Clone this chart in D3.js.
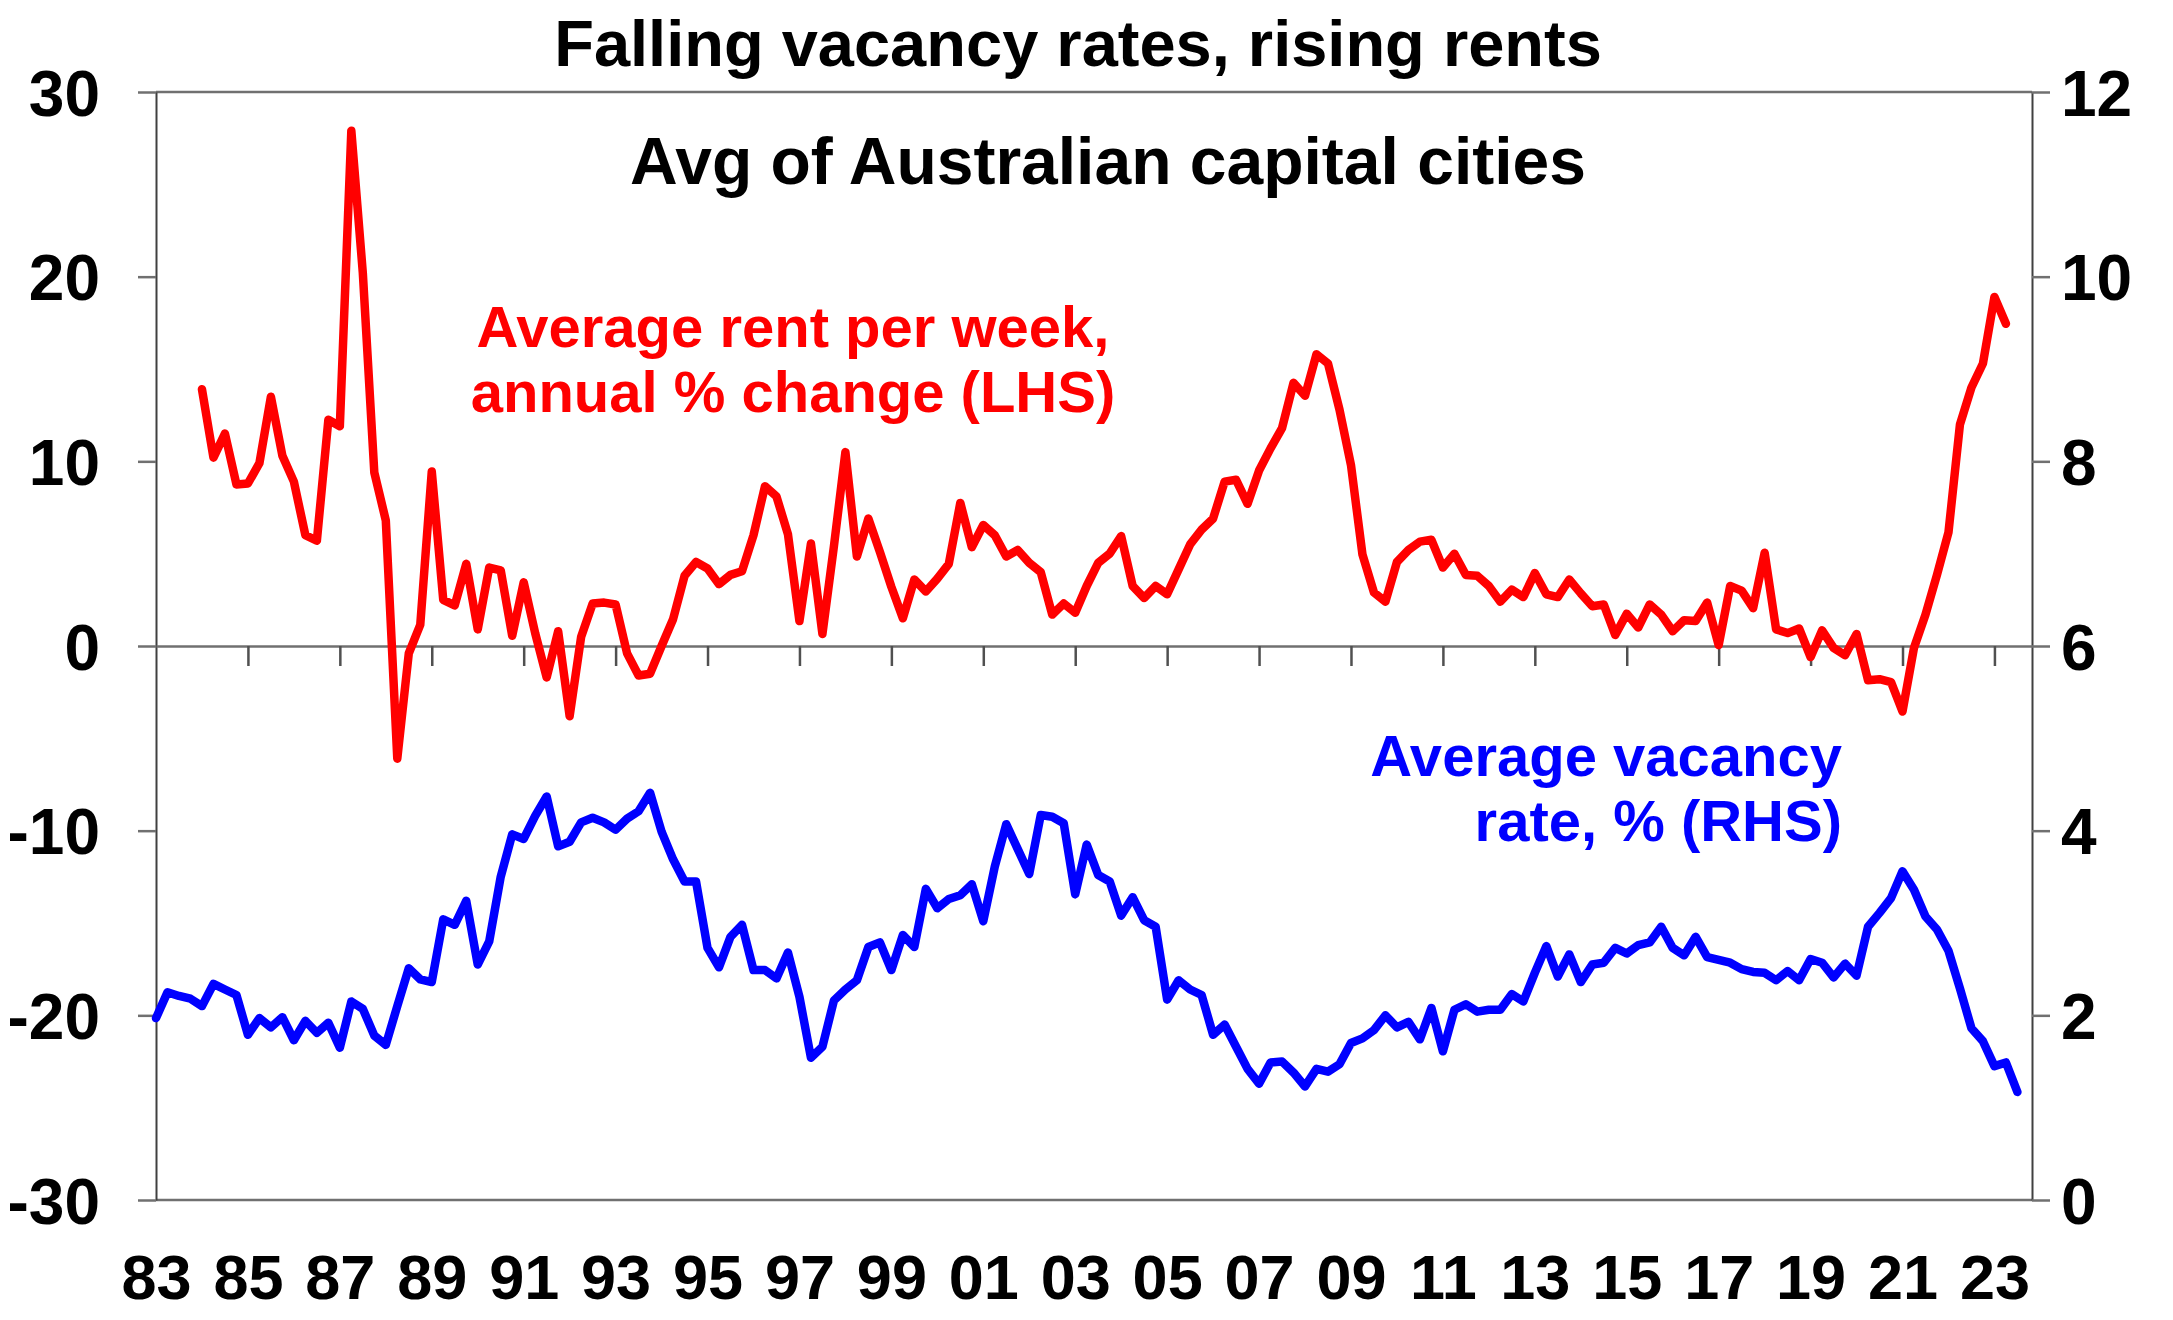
<!DOCTYPE html>
<html>
<head>
<meta charset="utf-8">
<script src="https://cdn.jsdelivr.net/npm/d3@7"></script>
<style>
  html, body { margin: 0; padding: 0; background: #ffffff; }
  svg { display: block; }
  text { font-family: "Liberation Sans", Arial, sans-serif; font-weight: bold; }
</style>
</head>
<body>
<svg id="chart" width="2173" height="1320"></svg>
<script>
// ---- Data (quarterly, starting 1983 Q1) ----
const startYear = 1983;
const periodsPerYear = 4;

// Average rent per week, annual % change (LHS) — starts 1984 Q1
const rentGrowth = [
  null, null, null, null,
  13.9, 10.2, 11.5, 8.75, 8.8, 9.9,
  13.5, 10.3, 8.9, 6.0, 5.7, 12.25, 11.9, 27.9, 20.2, 9.4,
  6.8, -6.1, -0.4, 1.15, 9.45, 2.5, 2.2, 4.45, 0.9, 4.25,
  4.1, 0.55, 3.45, 0.7, -1.7, 0.8, -3.8, 0.5, 2.3, 2.35,
  2.25, -0.4, -1.6, -1.5, 0.0, 1.45, 3.8, 4.55, 4.2, 3.35,
  3.85, 4.05, 6.0, 8.65, 8.1, 6.05, 1.35, 5.55, 0.65, 5.4,
  10.5, 4.85, 6.9, 5.1, 3.2, 1.5, 3.6, 2.95, 3.65, 4.45,
  7.75, 5.35, 6.55, 6.0, 4.85, 5.2, 4.5, 4.0, 1.7, 2.3,
  1.8, 3.25, 4.5, 5.0, 5.95, 3.25, 2.6, 3.25, 2.8, 4.15,
  5.5, 6.3, 6.9, 8.9, 9.0, 7.7, 9.5, 10.7, 11.8, 14.25,
  13.55, 15.8, 15.3, 12.8, 9.8, 4.95, 2.9, 2.4, 4.55, 5.2,
  5.65, 5.75, 4.25, 5.0, 3.85, 3.8, 3.25, 2.4, 3.05, 2.65,
  3.95, 2.8, 2.65, 3.6, 2.85, 2.15, 2.25, 0.6, 1.75, 1.0,
  2.25, 1.7, 0.8, 1.4, 1.35, 2.35, 0.05, 3.25, 3.0, 2.05,
  5.05, 0.9, 0.7, 0.95, -0.6, 0.85, -0.1, -0.5, 0.65, -1.85,
  -1.8, -1.95, -3.55, -0.1, 1.7, 3.85, 6.15, 12.0, 14.0, 15.3,
  18.9, 17.45
];

// Average vacancy rate, % (RHS) — starts 1983 Q1
const vacancyRate = [
  1.97, 2.25, 2.21, 2.18, 2.10, 2.34, 2.28, 2.22, 1.79, 1.97,
  1.87, 1.98, 1.73, 1.94, 1.81, 1.92, 1.65, 2.15, 2.07, 1.78,
  1.68, 2.10, 2.51, 2.39, 2.36, 3.04, 2.98, 3.24, 2.55, 2.80,
  3.50, 3.96, 3.91, 4.16, 4.37, 3.83, 3.88, 4.09, 4.14, 4.09,
  4.01, 4.13, 4.21, 4.41, 3.99, 3.69, 3.45, 3.45, 2.73, 2.52,
  2.85, 2.98, 2.49, 2.49, 2.40, 2.68, 2.20, 1.54, 1.66, 2.16,
  2.28, 2.38, 2.74, 2.79, 2.49, 2.87, 2.74, 3.37, 3.16, 3.26,
  3.30, 3.42, 3.02, 3.61, 4.07, 3.80, 3.53, 4.17, 4.15, 4.08,
  3.31, 3.85, 3.52, 3.45, 3.08, 3.28, 3.03, 2.96, 2.17, 2.38,
  2.28, 2.22, 1.79, 1.90, 1.66, 1.42, 1.26, 1.49, 1.50, 1.38,
  1.23, 1.42, 1.39, 1.47, 1.70, 1.75, 1.84, 2.00, 1.87, 1.93,
  1.74, 2.08, 1.61, 2.06, 2.12, 2.04, 2.06, 2.06, 2.23, 2.15,
  2.46, 2.75, 2.42, 2.66, 2.36, 2.55, 2.57, 2.73, 2.67, 2.76,
  2.79, 2.96, 2.73, 2.65, 2.85, 2.63, 2.60, 2.57, 2.50, 2.47,
  2.46, 2.38, 2.48, 2.38, 2.61, 2.57, 2.41, 2.56, 2.43, 2.96,
  3.11, 3.27, 3.56, 3.36, 3.07, 2.93, 2.70, 2.29, 1.86, 1.72,
  1.45, 1.49, 1.17
];

const xTickYears = [1983, 1985, 1987, 1989, 1991, 1993, 1995, 1997, 1999, 2001, 2003,
                    2005, 2007, 2009, 2011, 2013, 2015, 2017, 2019, 2021, 2023];
const xTickLabels = ["83", "85", "87", "89", "91", "93", "95", "97", "99", "01", "03",
                     "05", "07", "09", "11", "13", "15", "17", "19", "21", "23"];
const leftTicks = [30, 20, 10, 0, -10, -20, -30];
const rightTicks = [12, 10, 8, 6, 4, 2, 0];

const title = "Falling vacancy rates, rising rents";
const subtitle = "Avg of Australian capital cities";
const rentLabel = ["Average rent per week,", "annual % change (LHS)"];
const vacancyLabel = ["Average vacancy", "rate, % (RHS)"];

// ---- Layout ----
const plot = { left: 156, right: 2032, top: 92, bottom: 1200 };
const svg = d3.select("#chart");
const FONT = "'Liberation Sans', Arial, sans-serif";

const x = d3.scaleLinear()
  .domain([startYear, startYear + 163.27 / periodsPerYear])
  .range([plot.left, plot.right]);
const yL = d3.scaleLinear().domain([-30, 30]).range([plot.bottom, plot.top]);
const yR = d3.scaleLinear().domain([0, 12]).range([plot.bottom, plot.top]);

const t = i => startYear + i / periodsPerYear;
const axisColor = "#707070";

// Plot border (top & bottom)
svg.append("line").attr("x1", plot.left).attr("x2", plot.right)
  .attr("y1", plot.top).attr("y2", plot.top)
  .attr("stroke", axisColor).attr("stroke-width", 2.5);
svg.append("line").attr("x1", plot.left).attr("x2", plot.right)
  .attr("y1", plot.bottom).attr("y2", plot.bottom)
  .attr("stroke", axisColor).attr("stroke-width", 2.5);

// Left axis
const gL = svg.append("g").attr("transform", `translate(${plot.left},0)`)
  .call(d3.axisLeft(yL).tickValues(leftTicks).tickSize(18).tickPadding(38)
    .tickSizeOuter(0).tickFormat(d => String(d)));
// Right axis
const gR = svg.append("g").attr("transform", `translate(${plot.right},0)`)
  .call(d3.axisRight(yR).tickValues(rightTicks).tickSize(18).tickPadding(11)
    .tickSizeOuter(0).tickFormat(d => String(d)));
[gL, gR].forEach(g => {
  g.select(".domain").attr("stroke", "#404040").attr("stroke-width", 2);
  g.selectAll(".tick line").attr("stroke", axisColor).attr("stroke-width", 2.5);
  g.selectAll(".tick text").attr("fill", "#000").attr("font-size", 64)
    .attr("font-family", FONT).attr("font-weight", "bold")
    .attr("dy", "0.36em");
});

// Zero line with downward tick marks (category axis)
const gX = svg.append("g").attr("transform", `translate(0,${yL(0)})`)
  .call(d3.axisBottom(x).tickValues(xTickYears.slice(1)).tickSize(20).tickFormat("").tickSizeOuter(0));
gX.select(".domain").attr("stroke", axisColor).attr("stroke-width", 2.5);
gX.selectAll(".tick line").attr("stroke", "#505050").attr("stroke-width", 2.5);

// X tick labels at bottom
const gXL = svg.append("g").attr("transform", `translate(0,${plot.bottom})`)
  .call(d3.axisBottom(x).tickValues(xTickYears)
    .tickFormat((d, i) => xTickLabels[i]).tickSize(0).tickPadding(0));
gXL.select(".domain").remove();
gXL.selectAll(".tick text").attr("fill", "#000").attr("font-size", 63)
  .attr("font-family", FONT).attr("font-weight", "bold")
  .attr("y", 99).attr("dy", 0);

// Lines
const rentLine = d3.line()
  .defined(d => d != null)
  .x((d, i) => x(t(i)))
  .y(d => yL(d));
const vacLine = d3.line()
  .x((d, i) => x(t(i)))
  .y(d => yR(d));

svg.append("path").datum(vacancyRate)
  .attr("fill", "none").attr("stroke", "#0000FF").attr("stroke-width", 8.5)
  .attr("stroke-linejoin", "round").attr("stroke-linecap", "round")
  .attr("d", vacLine);
svg.append("path").datum(rentGrowth)
  .attr("fill", "none").attr("stroke", "#FF0000").attr("stroke-width", 8.5)
  .attr("stroke-linejoin", "round").attr("stroke-linecap", "round")
  .attr("d", rentLine);

// Titles
svg.append("text").attr("x", 1078).attr("y", 66).attr("text-anchor", "middle")
  .attr("font-size", 65).attr("fill", "#000").text(title);
svg.append("text").attr("x", 1108).attr("y", 184).attr("text-anchor", "middle")
  .attr("font-size", 66).attr("fill", "#000").text(subtitle);

// Series labels
rentLabel.forEach((s, i) => {
  svg.append("text").attr("x", 793).attr("y", 347 + i * 65).attr("text-anchor", "middle")
    .attr("font-size", 58).attr("fill", "#FF0000").text(s);
});
vacancyLabel.forEach((s, i) => {
  svg.append("text").attr("x", 1842).attr("y", 776 + i * 65).attr("text-anchor", "end")
    .attr("font-size", 58).attr("fill", "#0000FF").text(s);
});
</script>
</body>
</html>
